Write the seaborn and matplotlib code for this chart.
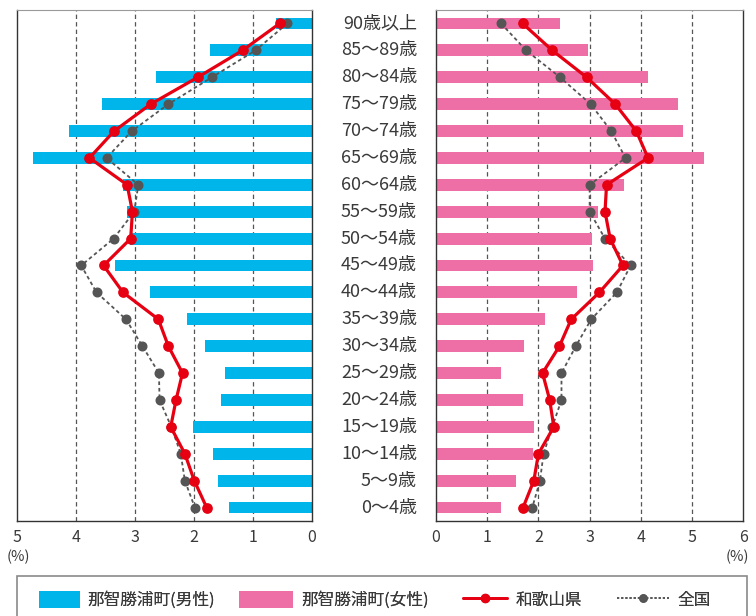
import numpy as np
import pandas as pd
import matplotlib
matplotlib.use("Agg")
import matplotlib.pyplot as plt
from matplotlib.lines import Line2D
from matplotlib.patches import Patch, Rectangle
from matplotlib.transforms import blended_transform_factory
import seaborn as sns

ages = ["90歳以上", "85〜89歳", "80〜84歳", "75〜79歳", "70〜74歳", "65〜69歳",
        "60〜64歳", "55〜59歳", "50〜54歳", "45〜49歳", "40〜44歳", "35〜39歳",
        "30〜34歳", "25〜29歳", "20〜24歳", "15〜19歳", "10〜14歳", "5〜9歳", "0〜4歳"]

nachi_male = [0.60, 1.72, 2.64, 3.56, 4.12, 4.73, 3.20, 3.13, 3.08, 3.34,
              2.74, 2.11, 1.80, 1.47, 1.54, 2.01, 1.68, 1.59, 1.40]
wakayama_male = [0.54, 1.17, 1.93, 2.73, 3.35, 3.77, 3.13, 3.04, 3.07, 3.53,
                 3.20, 2.60, 2.43, 2.19, 2.30, 2.39, 2.15, 1.99, 1.78]
japan_male = [0.41, 0.95, 1.69, 2.43, 3.05, 3.48, 2.94, 3.01, 3.36, 3.91,
              3.65, 3.15, 2.87, 2.59, 2.58, 2.38, 2.22, 2.15, 1.98]

nachi_female = [2.43, 2.97, 4.14, 4.73, 4.83, 5.23, 3.68, 3.16, 3.05, 3.06,
                2.75, 2.13, 1.71, 1.27, 1.69, 1.92, 1.89, 1.56, 1.27]
wakayama_female = [1.69, 2.27, 2.94, 3.50, 3.91, 4.14, 3.33, 3.30, 3.40, 3.65,
                   3.19, 2.64, 2.41, 2.08, 2.22, 2.30, 2.00, 1.91, 1.70]
japan_female = [1.27, 1.76, 2.42, 3.02, 3.42, 3.70, 3.00, 3.00, 3.30, 3.80,
                3.53, 3.03, 2.73, 2.45, 2.45, 2.27, 2.10, 2.03, 1.88]

left_ticks = [5, 4, 3, 2, 1, 0]
right_ticks = [0, 1, 2, 3, 4, 5, 6]

legend_labels = ["那智勝浦町(男性)", "那智勝浦町(女性)", "和歌山県", "全国"]

C_MALE = "#00B5EA"
C_FEMALE = "#EE6FA6"
C_RED = "#E60012"
C_GRAY = "#555555"
C_TEXT = "#3a3a3a"

sns.set_theme(style="white")
plt.rcParams["font.family"] = ["Noto Sans CJK JP", "DejaVu Sans"]

df = pd.DataFrame({
    "age": ages,
    "pos": np.arange(len(ages)),
    "nm": nachi_male, "wm": wakayama_male, "jm": japan_male,
    "nf": nachi_female, "wf": wakayama_female, "jf": japan_female,
})

fig = plt.figure(figsize=(7.56, 6.16), dpi=100)
axL = fig.add_axes([17 / 756, 1 - 521 / 616, (311.5 - 17) / 756, 511 / 616])
axR = fig.add_axes([436 / 756, 1 - 521 / 616, (743.3 - 436) / 756, 511 / 616])


def draw(ax, bar_col, red_col, gray_col, color, xlim, ticks, grid):
    for g in grid:
        ax.axvline(g, color="#555555", lw=0.9, ls=(0, (3.5, 2.5)), zorder=0)
    sns.barplot(data=df, x=bar_col, y="age", order=ages, orient="y",
                color=color, width=0.44, saturation=1, ax=ax, zorder=2,
                edgecolor="none")
    ax.plot(df[gray_col], df["pos"], ls=(0, (2, 1.6)), lw=1.3, color=C_GRAY,
            marker="o", ms=6.2, zorder=3)
    ax.plot(df[red_col], df["pos"], ls="-", lw=2.3, color=C_RED,
            marker="o", ms=6.7, zorder=4)
    ax.set_xlim(*xlim)
    ax.set_ylim(len(ages) - 0.5, -0.5)
    ax.set_xticks(ticks)
    ax.set_xticklabels([str(t) for t in ticks])
    ax.set_yticks([])
    ax.set_xlabel("")
    ax.set_ylabel("")
    ax.tick_params(axis="x", length=0, pad=6, labelsize=11.5, colors=C_TEXT)
    for s in ["left", "right", "bottom"]:
        ax.spines[s].set_color("#333333")
        ax.spines[s].set_linewidth(1.0)
    ax.spines["top"].set_color("#9a9a9a")
    ax.spines["top"].set_linewidth(0.8)


draw(axL, "nm", "wm", "jm", C_MALE, (5, 0), left_ticks, [1, 2, 3, 4])
draw(axR, "nf", "wf", "jf", C_FEMALE, (0, 6), right_ticks, [1, 2, 3, 4, 5])

trans = blended_transform_factory(fig.transFigure, axL.transData)
for i, lab in enumerate(ages):
    fig.text(417 / 756, i, lab, transform=trans, ha="right", va="center",
             fontsize=13, color=C_TEXT)

fig.text(18 / 756, 1 - 557 / 616, "(%)", ha="center", va="center",
         fontsize=10.5, color=C_TEXT)
fig.text(737 / 756, 1 - 557 / 616, "(%)", ha="center", va="center",
         fontsize=10.5, color=C_TEXT)

# legend box
fig.patches.append(Rectangle((16.5 / 756, -0.02), (747 - 16.5) / 756, 0.02 + (616 - 576) / 616,
                             transform=fig.transFigure, fill=False,
                             edgecolor="#8a8a8a", lw=1.2))

handles = [
    Patch(facecolor=C_MALE, edgecolor="none"),
    Patch(facecolor=C_FEMALE, edgecolor="none"),
    Line2D([], [], color=C_RED, lw=2.0, marker="o", ms=5.8),
    Line2D([], [], color=C_GRAY, lw=1.2, ls=(0, (1.3, 1.2)), marker="o", ms=5.2),
]
fs = 12
fs_px = fs * 100 / 72
# (handle start x px, handle width px, gap to text px)
slots = [(39, 41, 7), (239, 54, 8.5), (463, 44, 8.5), (617, 52, 8)]
for h, lab, (x0, w, gap) in zip(handles, legend_labels, slots):
    leg = fig.legend([h], [lab], loc="center left",
                     bbox_to_anchor=(x0 / 756, 1 - 600 / 616), frameon=False,
                     borderpad=0, borderaxespad=0, fontsize=fs,
                     handlelength=w / fs_px, handleheight=1.2,
                     handletextpad=gap / fs_px, numpoints=1, labelcolor=C_TEXT)
    fig.add_artist(leg)

fig.savefig("out.png", dpi=100)
